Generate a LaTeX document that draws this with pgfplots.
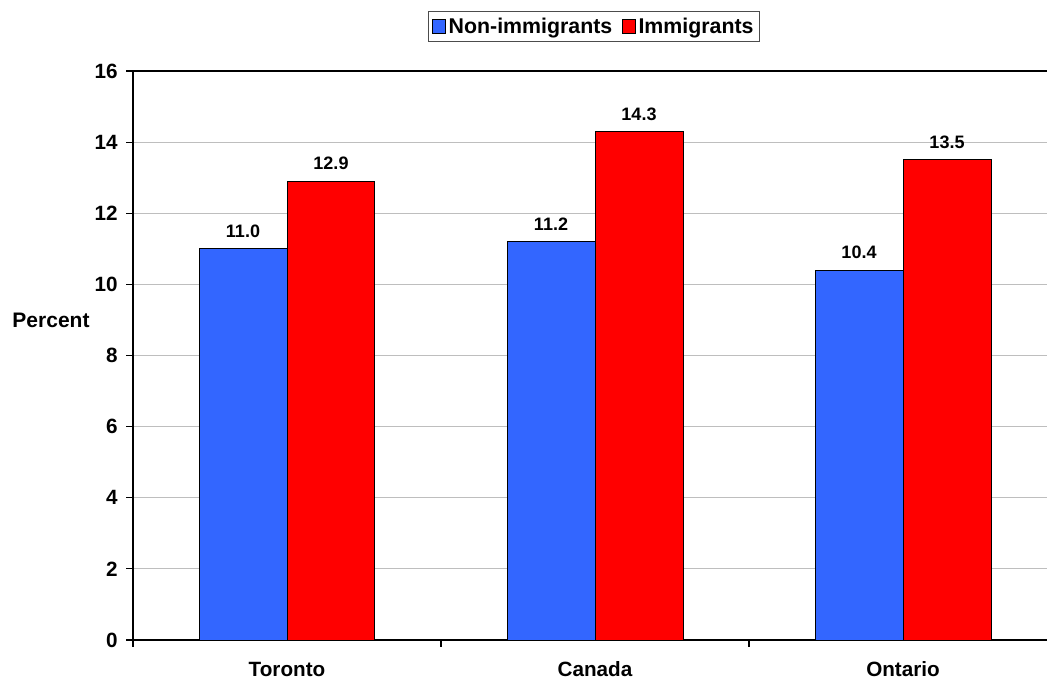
\documentclass[border=0pt]{standalone}
\usepackage{fontspec}
\setmainfont{Liberation Sans}
\usepackage{pgfplots}
\pgfplotsset{compat=1.18}
\definecolor{blueb}{HTML}{3366FF}
\definecolor{redb}{HTML}{FF0000}
\definecolor{gridc}{HTML}{BEBEBE}
\begin{document}
\begin{tikzpicture}
\pgfkeys{/pgf/number format/assume math mode=true}
\begin{axis}[
  scale only axis, width=685.5pt, height=426.75pt,
  xmin=-0.5, xmax=2.4675, ymin=0, ymax=16,
  ytick={0,2,...,16},
  xtick={0,1,2}, xticklabels={Toronto,Canada,Ontario},
  axis x line*=bottom, axis y line*=left,
  axis line style={black, line width=1.2pt},
  tick align=outside, major tick length=5pt,
  every tick/.style={black, line width=0.9pt},
  xtick style={draw=none},
  extra x ticks={-0.5,0.5,1.5}, extra x tick labels={},
  extra x tick style={xtick style={draw=black}},
  ymajorgrids, grid style={gridc, line width=0.8pt},
  ticklabel style={font=\fontsize{15.5}{18}\selectfont\bfseries},
  yticklabel style={anchor=east, xshift=-3pt},
  yticklabel={\pgfmathprintnumber[fixed,precision=0]{\tick}},
  xticklabel style={anchor=center, yshift=-17pt},
  ybar, bar width=0.2857,
  clip=false,
  legend columns=2,
  legend style={at={(0.5044,1.0782)}, anchor=center, draw=black!70, line width=0.7pt,
    font=\fontsize{16}{19}\selectfont\bfseries, inner sep=2.5pt,
    /tikz/every even column/.append style={column sep=5pt}},
  legend image code/.code={\draw[#1, draw=black, line width=0.7pt] (0pt,-5pt) rectangle (10pt,5pt);},
  nodes near coords={\pgfmathprintnumber[fixed,fixed zerofill,precision=1]{\pgfplotspointmeta}},
  every node near coord/.append style={font=\fontsize{13.5}{16}\selectfont\bfseries, anchor=south, inner sep=0pt, yshift=8pt, black},
]
\addplot[fill=blueb, draw=black, line width=0.75pt, bar shift=-0.14285] coordinates {(0,11.0) (1,11.2) (2,10.4)};
\addplot[fill=redb, draw=black, line width=0.75pt, bar shift=0.14285] coordinates {(0,12.9) (1,14.3) (2,13.5)};
\legend{Non-immigrants, Immigrants}
\draw[black, line width=1.1pt] (axis cs:-0.5,16) -- (axis cs:2.4675,16);
\node[font=\fontsize{15.75}{18}\selectfont\bfseries, anchor=center] at (rel axis cs:0,0.5625) [xshift=-61.5pt] {Percent};
\end{axis}
\pgfresetboundingbox
\useasboundingbox (-99.75pt,-31.5pt) rectangle (685.5pt,480pt);
\end{tikzpicture}
\end{document}
